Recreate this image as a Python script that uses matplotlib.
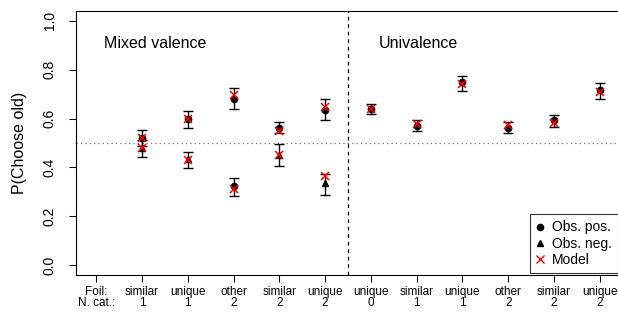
import matplotlib
matplotlib.use("Agg")
import matplotlib.pyplot as plt
import numpy as np

plt.rcParams["font.family"] = ["Liberation Sans", "DejaVu Sans"]

# x axis categories (position 0 carries the row captions)
foil = ["Foil:", "similar", "unique", "other", "similar", "unique",
        "unique", "similar", "unique", "other", "similar", "unique"]
ncat = ["N. cat.:", "1", "1", "2", "2", "2", "0", "1", "1", "2", "2", "2"]

# mixed valence block (positions 1-5)
mix_x = [1, 2, 3, 4, 5]
mix_pos = [0.520, 0.598, 0.680, 0.563, 0.635]
mix_pos_lo = [0.487, 0.561, 0.639, 0.540, 0.594]
mix_pos_hi = [0.553, 0.631, 0.727, 0.587, 0.679]
mix_neg = [0.480, 0.434, 0.325, 0.451, 0.335]
mix_neg_lo = [0.444, 0.397, 0.284, 0.407, 0.287]
mix_neg_hi = [0.513, 0.464, 0.356, 0.495, 0.373]
mix_neg_marker = ["^", "^", "o", "^", "^"]
mix_model_pos = [0.520, 0.600, 0.697, 0.548, 0.646]
mix_model_neg = [0.480, 0.432, 0.311, 0.451, 0.366]

# univalence block (positions 6-11)
uni_x = [6, 7, 8, 9, 10, 11]
uni_pos = [0.641, 0.570, 0.749, 0.561, 0.594, 0.716]
uni_lo = [0.619, 0.550, 0.714, 0.540, 0.567, 0.680]
uni_hi = [0.660, 0.594, 0.775, 0.586, 0.616, 0.745]
uni_model = [0.640, 0.577, 0.740, 0.575, 0.580, 0.710]

fig = plt.figure(figsize=(6.18, 3.13), dpi=100)
ax = fig.add_axes([76 / 618, 38 / 313, 544 / 618, 264 / 313])

ax.axhline(0.5, color="0.45", ls=(0, (1, 2.5)), lw=0.9, zorder=1)
ax.axvline(5.5, color="black", ls=(0, (3, 3)), lw=0.9, zorder=1)

# errorbar doubles capsize for the cap marker width
eb = dict(fmt="none", ecolor="black", elinewidth=1.0, capsize=3.6, capthick=1.0, zorder=2)


def span(v, lo, hi):
    v, lo, hi = map(np.asarray, (v, lo, hi))
    return [v - lo, hi - v]


ax.errorbar(mix_x, mix_pos, yerr=span(mix_pos, mix_pos_lo, mix_pos_hi), **eb)
ax.errorbar(mix_x, mix_neg, yerr=span(mix_neg, mix_neg_lo, mix_neg_hi), **eb)
ax.errorbar(uni_x, uni_pos, yerr=span(uni_pos, uni_lo, uni_hi), **eb)

ax.plot(mix_x, mix_pos, "o", color="black", ms=4.5, zorder=3)
ax.plot(uni_x, uni_pos, "o", color="black", ms=4.5, zorder=3)
for x, y, m in zip(mix_x, mix_neg, mix_neg_marker):
    ax.plot(x, y, m, color="black", ms=5 if m == "^" else 4.5, zorder=3)

ax.plot(mix_x, mix_model_pos, "x", color="red", ms=6, mew=1.1, zorder=4)
ax.plot(mix_x, mix_model_neg, "x", color="red", ms=6, mew=1.1, zorder=4)
ax.plot(uni_x, uni_model, "x", color="red", ms=6, mew=1.1, zorder=4)

ax.text(0.17, 0.906, "Mixed valence", fontsize=11.5, va="center", ha="left")
ax.text(6.18, 0.906, "Univalence", fontsize=11.5, va="center", ha="left")

ax.set_xlim(-0.44, 11.44)
ax.set_ylim(-0.04, 1.04)
ax.set_yticks([0.0, 0.2, 0.4, 0.6, 0.8, 1.0])
ylabs = ax.set_yticklabels(["0.0", "0.2", "0.4", "0.6", "0.8", "1.0"],
                           rotation=90, fontsize=10)
for t in ylabs:
    t.set_ha("center")
    t.set_va("center")
ax.set_xticks(range(len(foil)))
labs = ax.set_xticklabels([f + "\n" + n for f, n in zip(foil, ncat)], fontsize=8.5)
for t in labs:
    t.set_linespacing(0.92)
ax.tick_params(axis="y", length=5, width=0.75, pad=14)
ax.tick_params(axis="x", length=5, width=0.75, pad=3)
for s in ax.spines.values():
    s.set_linewidth(0.8)

ax.set_ylabel("P(Choose old)", fontsize=11.5)
ax.yaxis.set_label_coords(-0.09, 0.5)

h = [
    plt.Line2D([], [], ls="none", marker="o", color="black", ms=4.5),
    plt.Line2D([], [], ls="none", marker="^", color="black", ms=5),
    plt.Line2D([], [], ls="none", marker="x", color="red", ms=6, mew=1.0),
]
leg = ax.legend(h, ["Obs. pos.", "Obs. neg.", "Model"], loc="lower right",
                bbox_to_anchor=(1.0, 0.0), borderaxespad=0.15, fontsize=10,
                frameon=True, fancybox=False, edgecolor="black",
                handlelength=0.5, handletextpad=0.6, labelspacing=0.15,
                borderpad=0.45)
leg.get_frame().set_linewidth(0.8)

fig.savefig("out.png", dpi=100)
